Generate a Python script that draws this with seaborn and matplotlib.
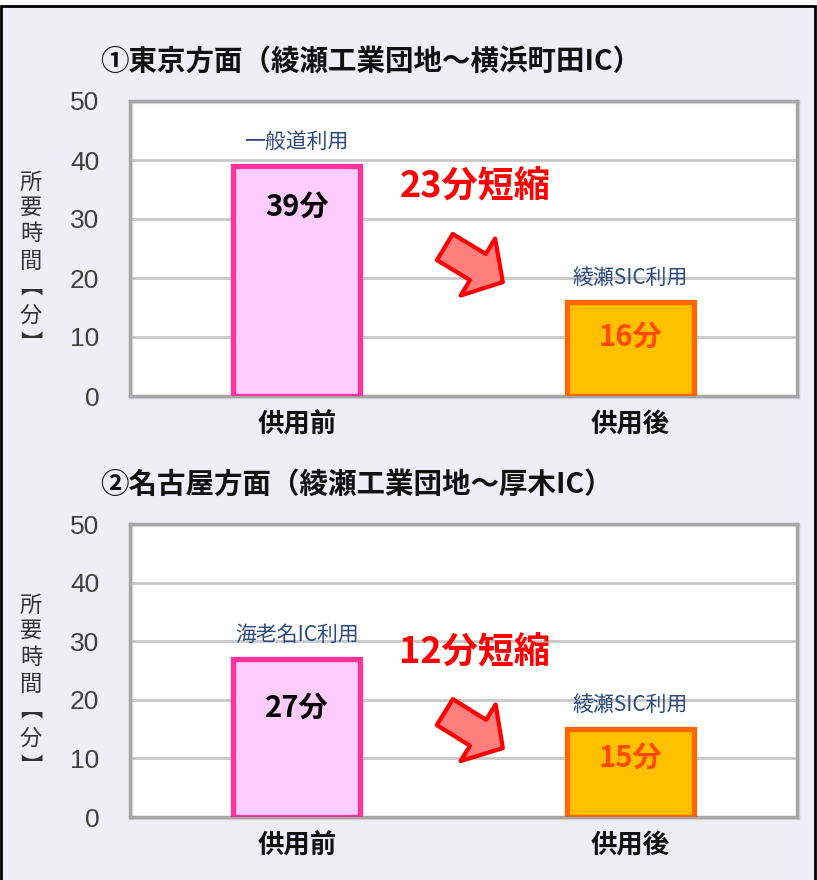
import matplotlib
matplotlib.use("Agg")
import matplotlib.pyplot as plt
import matplotlib.patches as mpatches
import matplotlib.patheffects as pe
import pandas as pd
import seaborn as sns

# data
categories = ["供用前", "供用後"]
tokyo_minutes = [39, 16]
nagoya_minutes = [27, 15]
tokyo_routes = ["一般道利用", "綾瀬SIC利用"]
nagoya_routes = ["海老名IC利用", "綾瀬SIC利用"]
titles = ["①東京方面（綾瀬工業団地～横浜町田IC）", "②名古屋方面（綾瀬工業団地～厚木IC）"]
ylabel_chars = ["所", "要", "時", "間", "︻", "分", "︼"]
yticks = [0, 10, 20, 30, 40, 50]

BG = "#EFEDF5"
FILLS = ["#FFCCFF", "#FFC000"]
EDGES = ["#FF3399", "#FF6600"]
INNER_TEXT = ["#000000", "#FF4A00"]
W, H = 817, 880

sns.set_theme(style="white")
plt.rcParams["font.family"] = ["Noto Sans CJK JP", "DejaVu Sans"]

fig = plt.figure(figsize=(W / 100, H / 100), dpi=100)
fig.patch.set_facecolor("white")
fig.patches.append(mpatches.Rectangle((1 / W, -0.02), 814 / W, 1.02 - 6 / H,
                                      transform=fig.transFigure, fc=BG, ec="black",
                                      lw=2, zorder=-10))

panels = [
    dict(top=101, height=295, vals=tokyo_minutes, routes=tokyo_routes, title=titles[0],
         inner=[7, 6], arrow_y=(0.505, 0.386), text_y=0.708),
    dict(top=524, height=293, vals=nagoya_minutes, routes=nagoya_routes, title=titles[1],
         inner=[8.4, 4.8], arrow_y=(0.358, 0.235), text_y=0.56),
]
# vertical offsets (px below axes top) of the stacked y-label characters
ylab_offsets = [81, 106, 133, 160, 186, 214, 242]

for p in panels:
    ax = fig.add_axes([130 / W, 1 - (p["top"] + p["height"]) / H, 667 / W, p["height"] / H])
    df = pd.DataFrame({"cat": categories, "min": p["vals"]})
    sns.barplot(data=df, x="cat", y="min", hue="cat", palette=FILLS, saturation=1,
                width=0.38, legend=False, ax=ax, zorder=3)
    for bar, ec in zip(ax.patches, EDGES):
        bar.set_edgecolor(ec)
        bar.set_linewidth(3.8)
        bar.set_path_effects([pe.SimplePatchShadow(offset=(2, -2), shadow_rgbFace="#808080",
                                                   alpha=0.6), pe.Normal()])
    ax.set_facecolor("white")
    ax.set_ylim(0, 50)
    ax.set_xlim(-0.5, 1.5)
    ax.set_yticks(yticks)
    ax.yaxis.grid(True, color="#C8C8C8", lw=2)
    ax.set_axisbelow(True)
    for s in ax.spines.values():
        s.set_color("#A6A6A6")
        s.set_linewidth(2.5)
        s.set_path_effects([pe.SimpleLineShadow(offset=(1, -1), shadow_color="#B0B0B0"),
                            pe.Normal()])
    ax.tick_params(axis="y", length=0, pad=22, labelsize=19, labelcolor="#404040")
    ax.tick_params(axis="x", length=0, pad=11, labelsize=19)
    for lab in ax.get_yticklabels():
        lab.set_fontfamily(["Liberation Sans", "DejaVu Sans"])
    for lab in ax.get_xticklabels():
        lab.set_fontweight("bold")
        lab.set_color("#111111")
    ax.set_xlabel("")
    ax.set_ylabel("")

    for i, v in enumerate(p["vals"]):
        ax.text(i, v + 2.2, p["routes"][i], ha="center", va="bottom", fontsize=15,
                color="#2E4A7D")
        ax.text(i, v - p["inner"][i], f"{v}分", ha="center", va="center", fontsize=21,
                fontweight="bold", color=INNER_TEXT[i])

    saved = p["vals"][0] - p["vals"][1]
    ax.text(0.517, p["text_y"], f"{saved}分短縮", transform=ax.transAxes, ha="center",
            va="center", fontsize=26, fontweight="bold", color="#FF0000")
    y0, y1 = p["arrow_y"]
    ax.add_patch(mpatches.FancyArrowPatch(
        (0.472, y0), (0.559, y1), transform=ax.transAxes,
        arrowstyle="simple,head_length=21,head_width=48,tail_width=22",
        mutation_scale=1, shrinkA=0, shrinkB=0, fc="#FF7F7F", ec="#FF0000", lw=3,
        zorder=5, clip_on=False))

    fig.text(100 / W, 1 - (p["top"] - 39) / H, p["title"], ha="left", va="center",
             fontsize=20.5, fontweight="bold", color="#111111")
    for ch, off in zip(ylabel_chars, ylab_offsets):
        fig.text(31 / W, 1 - (p["top"] + off) / H, ch, ha="center", va="center",
                 fontsize=16, color="#333333")

fig.savefig("out.png", dpi=100)
